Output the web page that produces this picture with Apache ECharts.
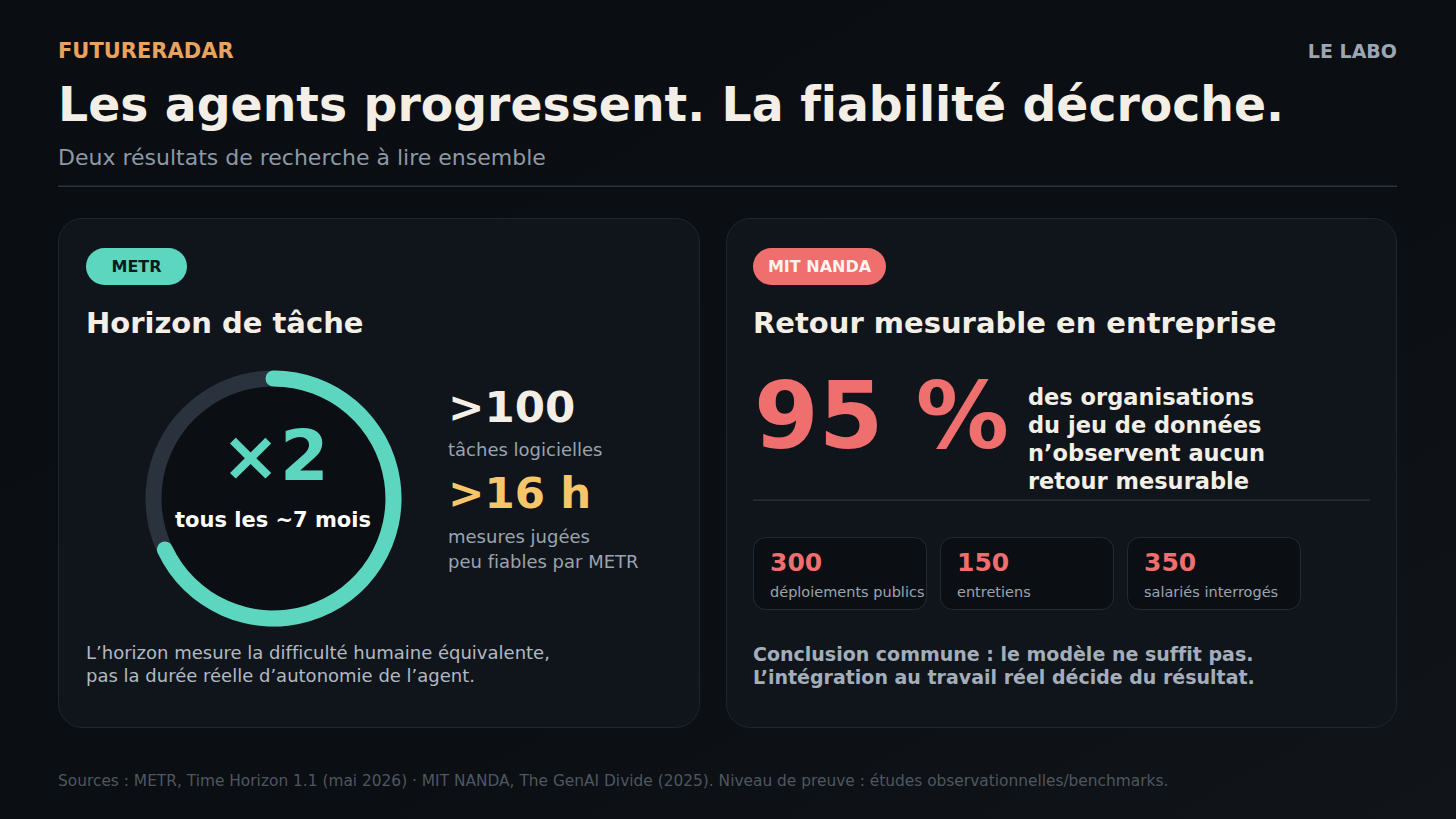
<!DOCTYPE html>
<html>
<head>
<meta charset="utf-8">
<script src="https://cdn.jsdelivr.net/npm/echarts@6/dist/echarts.min.js"></script>
<style>
html,body{margin:0;padding:0;background:#0a0d11;}
#chart{width:1456px;height:819px;font-variant-ligatures:none;}
#chart text{font-variant-ligatures:none;}
</style>
</head>
<body>
<div id="chart"></div>
<script>
// ---- data ----
const brand = 'FUTURERADAR';
const brandRight = 'LE LABO';
const title = 'Les agents progressent. La fiabilité décroche.';
const subtitle = 'Deux résultats de recherche à lire ensemble';
const leftBadge = 'METR';
const leftTitle = 'Horizon de tâche';
const ringValue = [68];            // share of ring filled (visual)
const ringMain = '×2';
const ringSub = 'tous les ~7 mois';
const leftStatValues = ['>100', '>16 h'];
const leftStatLabels = [['tâches logicielles'], ['mesures jugées', 'peu fiables par METR']];
const leftNote = ['L’horizon mesure la difficulté humaine équivalente,', 'pas la durée réelle d’autonomie de l’agent.'];
const rightBadge = 'MIT NANDA';
const rightTitle = 'Retour mesurable en entreprise';
const bigPercent = '95 %';
const bigPercentText = ['des organisations', 'du jeu de données', 'n’observent aucun', 'retour mesurable'];
const sampleValues = ['300', '150', '350'];
const sampleLabels = ['déploiements publics', 'entretiens', 'salariés interrogés'];
const conclusion = ['Conclusion commune : le modèle ne suffit pas.', 'L’intégration au travail réel décide du résultat.'];
const sources = 'Sources : METR, Time Horizon 1.1 (mai 2026) · MIT NANDA, The GenAI Divide (2025). Niveau de preuve : études observationnelles/benchmarks.';

// ---- styles ----
const FF = '"DejaVu Sans", "Noto Sans", sans-serif';
const C = {
  cream: '#f4efe6', teal: '#5dd6c0', red: '#ef6e6e', yellow: '#f5c76a',
  orange: '#e9a25f', gray: '#9aa4af', gray2: '#b3b9c1', dim: '#4e5760',
  card: '#10151b', cardBorder: '#1f262e', box: '#0b0f14', boxBorder: '#222a33', line: '#2b343d'
};

function txt(x, y, text, size, color, weight, align) {
  return {
    type: 'text', silent: true,
    style: {
      x: x, y: y - size * 0.085, text: text, fill: color,
      fontSize: size, fontWeight: weight || 'normal', fontFamily: FF,
      textAlign: align || 'left', textVerticalAlign: 'middle'
    }
  };
}

const g = [];
// header
g.push(txt(58, 53, brand, 21, C.orange, 'bold'));
g.push(txt(1397, 53, brandRight, 19, '#9ba6b3', 'bold', 'right'));
g.push(txt(58, 109, title, 47.3, C.cream, 'bold'));
g.push(txt(58, 159, subtitle, 22, '#8e99a6'));
g.push({type: 'rect', silent: true, shape: {x: 58, y: 185.5, width: 1339, height: 1.5}, style: {fill: C.line}});

// cards
g.push({type: 'rect', silent: true, shape: {x: 58.5, y: 218.5, width: 641, height: 509, r: 24}, style: {fill: C.card, stroke: C.cardBorder, lineWidth: 1}});
g.push({type: 'rect', silent: true, shape: {x: 726.5, y: 218.5, width: 670, height: 509, r: 24}, style: {fill: C.card, stroke: C.cardBorder, lineWidth: 1}});

// badges
g.push({type: 'rect', silent: true, shape: {x: 86, y: 248, width: 101, height: 37, r: 18.5}, style: {fill: C.teal}});
g.push(txt(136.5, 268, leftBadge, 16, '#0c1a18', 'bold', 'center'));
g.push({type: 'rect', silent: true, shape: {x: 753, y: 248, width: 133, height: 37, r: 18.5}, style: {fill: C.red}});
g.push(txt(819.5, 268, rightBadge, 16, '#fff4ef', 'bold', 'center'));

// card titles
g.push(txt(86, 325, leftTitle, 29, C.cream, 'bold'));
g.push(txt(753, 325, rightTitle, 29, C.cream, 'bold'));

// ring inner fill
g.push({type: 'circle', silent: true, shape: {cx: 273.5, cy: 498.5, r: 113}, style: {fill: '#0b0f14'}});

// ring texts
g.push(txt(275, 462, ringMain, 70, C.teal, 'bold', 'center'));
g.push(txt(273, 522, ringSub, 21, '#ffffff', 'bold', 'center'));

// left stats
g.push(txt(448, 411, leftStatValues[0], 43.5, C.cream, 'bold'));
g.push(txt(448, 451, leftStatLabels[0][0], 18, C.gray));
g.push(txt(448, 497, leftStatValues[1], 43.5, C.yellow, 'bold'));
g.push(txt(448, 538, leftStatLabels[1][0], 18, C.gray));
g.push(txt(448, 563, leftStatLabels[1][1], 18, C.gray));

// left note
g.push(txt(86, 654, leftNote[0], 18, C.gray2));
g.push(txt(86, 677, leftNote[1], 18, C.gray2));

// big percent
g.push(txt(754, 424, bigPercent, 93, C.red, 'bold'));
bigPercentText.forEach(function (t, i) { g.push(txt(1028, 399 + i * 28, t, 22.5, C.cream, 'bold')); });
g.push({type: 'rect', silent: true, shape: {x: 753, y: 499.5, width: 617, height: 1.2}, style: {fill: C.line}});

// sample boxes
const boxX = [753.5, 940.5, 1127.5];
const boxW = [173, 173, 173];
sampleValues.forEach(function (v, i) {
  g.push({type: 'rect', silent: true, shape: {x: boxX[i], y: 537.5, width: boxW[i], height: 72, r: 12}, style: {fill: C.box, stroke: C.boxBorder, lineWidth: 1}});
  g.push(txt(boxX[i] + 16.5, 565, v, 25, C.red, 'bold'));
  g.push(txt(boxX[i] + 16.5, 593, sampleLabels[i], 14.5, C.gray));
});

// conclusion
g.push(txt(753, 656, conclusion[0], 19, '#a4aeba', 'bold'));
g.push(txt(753, 679, conclusion[1], 19, '#a4aeba', 'bold'));

// footer
g.push(txt(58, 782, sources, 15.4, C.dim));

const chart = echarts.init(document.getElementById('chart'), null, {renderer: 'svg'});
chart.setOption({
  backgroundColor: new echarts.graphic.LinearGradient(0, 0, 1, 1, [
    {offset: 0, color: '#0a0d11'},
    {offset: 0.6, color: '#0b0e12'},
    {offset: 1, color: '#111519'}
  ]),
  animation: false,
  graphic: {elements: g},
  series: [{
    type: 'gauge',
    center: [273.5, 498.5],
    radius: 128,
    startAngle: 90,
    endAngle: -270,
    clockwise: true,
    min: 0,
    max: 100,
    z: 10,
    pointer: {show: false},
    axisTick: {show: false},
    splitLine: {show: false},
    axisLabel: {show: false},
    detail: {show: false},
    title: {show: false},
    axisLine: {lineStyle: {width: 16, color: [[1, '#2a323d']]}},
    progress: {show: true, width: 16, roundCap: true, itemStyle: {color: C.teal}},
    data: ringValue.map(function (v) { return {value: v}; })
  }]
});
</script>
</body>
</html>
